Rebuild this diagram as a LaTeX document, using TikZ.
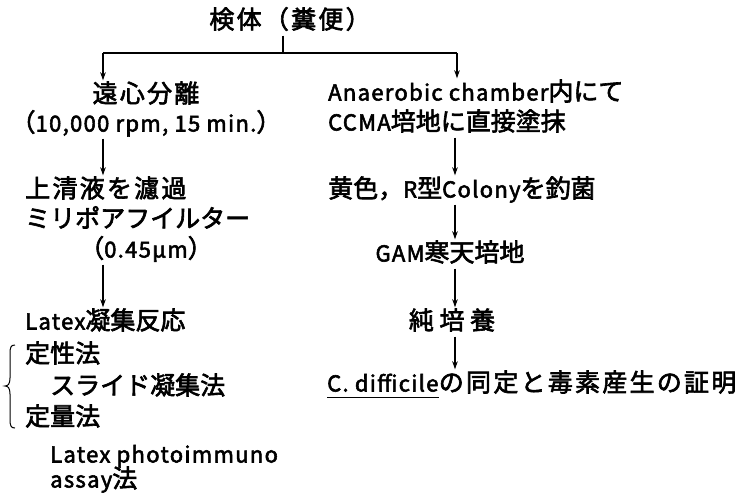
\documentclass[tikz,border=0pt]{standalone}
\usepackage{fontspec}
\setmainfont{Noto Sans CJK JP}[FakeBold=2.5]
\usetikzlibrary{arrows.meta}
\newcommand{\lt}[1]{{\fontsize{22}{24}\selectfont\addfontfeature{LetterSpace=6}#1}}
\newcommand{\wide}[1]{{\addfontfeature{LetterSpace=9}#1}}
\begin{document}
\begin{tikzpicture}[x=1pt,y=-1pt,
  txt/.style={inner xsep=0pt,inner ysep=4pt,text height=18pt,text depth=3pt,
    font=\fontsize{25}{28}\selectfont},
  txtw/.style={txt,anchor=west},
  line/.style={line width=1.2pt},
  arr/.style={line width=1.2pt,-{Stealth[length=8pt,width=5.5pt]}}]
\useasboundingbox[fill=white] (0,0) rectangle (744,493);
% top
\node[txt] (top) at (290,21) {\wide{検体（糞便）}};
\coordinate (j) at (283,53);
\coordinate (jl) at (103,53);
\coordinate (jr) at (457,53);
\coordinate (xr) at (455,0);
% left column
\node[txt] (l1) at (146,95) {\wide{遠心分離}};
\node[txt] (l2) at (146,124) {（\lt{10,000 rpm, 15 min.}）};
\node[txtw] (l3) at (25,190) {\wide{上清液を濾過}};
\node[txtw] (l4) at (25,220) {ミリポアフイルター};
\node[txt] (l5) at (146,250) {（\lt{0.45µm}）};
\node[txtw] (l6) at (25,322) {\lt{Latex}凝集反応};
\node[txtw] (l7) at (25,355) {定性法};
\node[txtw] (l8) at (50,387) {スライド凝集法};
\node[txtw] (l9) at (25,418) {定量法};
\node[txtw] (l10) at (50,455) {\lt{Latex photoimmuno}};
\node[txtw] (l11) at (50,480) {\lt{assay}法};
% right column
\node[txtw] (r1) at (328,93) {\lt{Anaerobic chamber}内にて};
\node[txtw] (r2) at (328,123) {\lt{CCMA}培地に直接塗抹};
\node[txtw] (r3) at (328,190) {黄色，\lt{R}型\lt{Colony}を釣菌};
\node[txt] (r4) at (450,254) {\lt{GAM}寒天培地};
\node[txt] (r5) at (452,322) {純\ 培\ 養};
\node[txtw] (cd) at (327,384) {\lt{C. difficile}};
\node[txtw] (r6) at (cd.east) {\wide{の同定と毒素産生の証明}};
% connectors
\draw[line] (top.south -| j) -- (j);
\draw[line] (jl) -- (jr);
\draw[arr] (jl) -- (l1.north -| jl);
\draw[arr] (jr) -- (r1.north -| jr);
\draw[arr] (l2.south -| jl) -- (l3.north -| jl);
\draw[arr] (l5.south -| jl) -- (l6.north -| jl);
\draw[arr] (r2.south -| xr) -- (r3.north -| xr);
\draw[arr] (r3.south -| xr) -- (r4.north -| xr);
\draw[arr] (r4.south -| xr) -- (r5.north -| xr);
\draw[arr] (r5.south -| xr) -- (cd.north -| xr);
\draw[line] ([yshift=-6pt]cd.base west) -- ([yshift=-6pt]cd.base east);
% brace
\draw[line,line width=1pt] (15,345) .. controls (11,345) and (10,347) .. (10,354) -- (10,378)
  .. controls (10,384) and (8,386) .. (5,386)
  .. controls (8,386) and (10,388) .. (10,394) -- (10,419)
  .. controls (10,426) and (11,428) .. (15,428);
\end{tikzpicture}
\end{document}
